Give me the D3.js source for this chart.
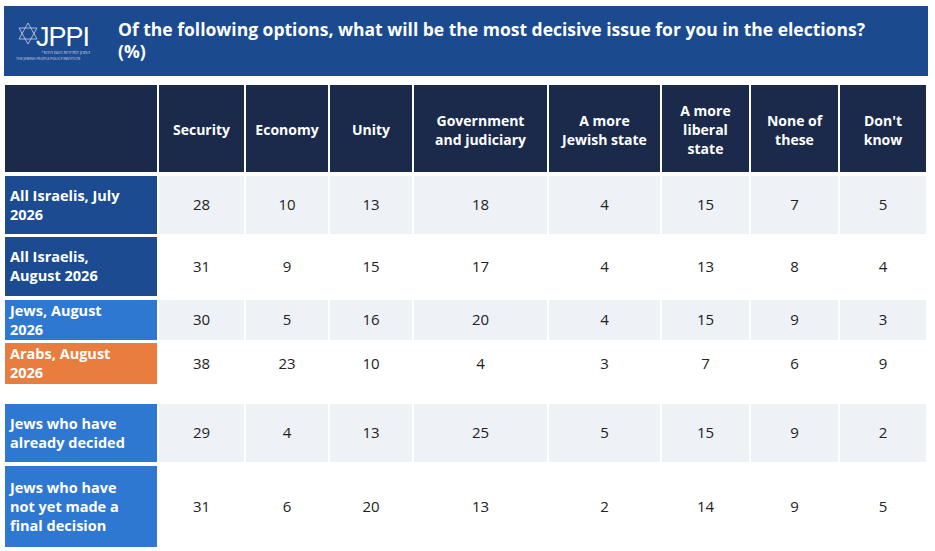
<!DOCTYPE html><html><head><meta charset="utf-8"><script src="https://cdn.jsdelivr.net/npm/d3@7"></script>
<style>body{margin:0;background:#fff;font-family:"Open Sans",sans-serif}</style></head><body><svg id="c" width="935" height="551"></svg>
<script>
const columns=["Security","Economy","Unity","Government\nand judiciary","A more\nJewish state","A more\nliberal\nstate","None of\nthese","Don't\nknow"];
const rows=["All Israelis, July\n2026","All Israelis,\nAugust 2026","Jews, August\n2026","Arabs, August\n2026","Jews who have\nalready decided","Jews who have\nnot yet made a\nfinal decision"];
const values=[[28,10,13,18,4,15,7,5],[31,9,15,17,4,13,8,4],[30,5,16,20,4,15,9,3],[38,23,10,4,3,7,6,9],[29,4,13,25,5,15,9,2],[31,6,20,13,2,14,9,5]];
const title=["Of the following options, what will be the most decisive issue for you in the elections?","(%)"];
const svg=d3.select("#c");
const font="'Open Sans',sans-serif";
const colEdges=[5,159,246,330,414,549,662,751,840,928];
const rowTop=[176,237,300,343,404,466], rowBot=[234,296,340,384,462,547];
const rowColor=["#1c4b91","#1c4b91","#2f78d1","#e97d3d","#2f78d1","#2f78d1"];
const x=d3.scaleOrdinal().domain(d3.range(10)).range(colEdges);
svg.append("rect").attr("x",4).attr("y",6).attr("width",924).attr("height",70).attr("fill","#1b4a8f");
const lg=svg.append("g");
lg.append("path").attr("d","M28 23 L37 39 L19 39 Z M28 44 L37 28 L19 28 Z").attr("fill","none").attr("stroke","#c9d4e8").attr("stroke-width",0.8);
lg.append("text").attr("x",36).attr("y",46).attr("fill","#fff").attr("font-family","'Liberation Sans',sans-serif").attr("font-size",27).attr("letter-spacing",-1).text("JPPI");
lg.append("text").attr("x",90).attr("y",54).attr("direction","rtl").attr("text-anchor","start").attr("fill","#dde").attr("font-size",4.5).attr("font-family",font).text("המכון למדיניות העם היהודי");
lg.append("text").attr("x",16).attr("y",60).attr("fill","#dde").attr("font-size",3.6).attr("font-family",font).text("THE JEWISH PEOPLE POLICY INSTITUTE");
title.forEach((t,i)=>svg.append("text").attr("x",118).attr("y",36+i*22).attr("fill","#fff").attr("font-family",font).attr("font-weight",700).attr("font-size",17.5).text(t));
function ml(g,str,cx,cy,anchor,size,color,weight,lh){
  const ls=str.split("\n");
  const t=g.append("text").attr("font-family",font).attr("font-size",size).attr("fill",color).attr("font-weight",weight).attr("text-anchor",anchor);
  ls.forEach((l,i)=>t.append("tspan").attr("x",cx).attr("y",cy+(i-(ls.length-1)/2)*lh+size*0.36).text(l));
}
for(let c=0;c<9;c++){
  svg.append("rect").attr("x",x(c)).attr("y",85).attr("width",x(c+1)-x(c)-2).attr("height",87).attr("fill","#1b2a4a");
  if(c>0) ml(svg,columns[c-1],(x(c)+x(c+1)-2)/2,130,"middle",14,"#fff",700,19);
}
rows.forEach((r,i)=>{
  svg.append("rect").attr("x",x(0)).attr("y",rowTop[i]).attr("width",x(1)-x(0)-2).attr("height",rowBot[i]-rowTop[i]).attr("fill",rowColor[i]);
  const cy=(rowTop[i]+rowBot[i])/2;
  ml(svg,r,10,cy,"start",14.5,"#fff",700,19);
  values[i].forEach((v,j)=>{
    const c=j+1;
    svg.append("rect").attr("x",x(c)).attr("y",rowTop[i]).attr("width",x(c+1)-x(c)-2).attr("height",rowBot[i]-rowTop[i]).attr("fill",i%2==0?"#eef1f6":"#ffffff");
    ml(svg,String(v),(x(c)+x(c+1)-2)/2,cy,"middle",15,"#222",400,19);
  });
});
</script></body></html>
